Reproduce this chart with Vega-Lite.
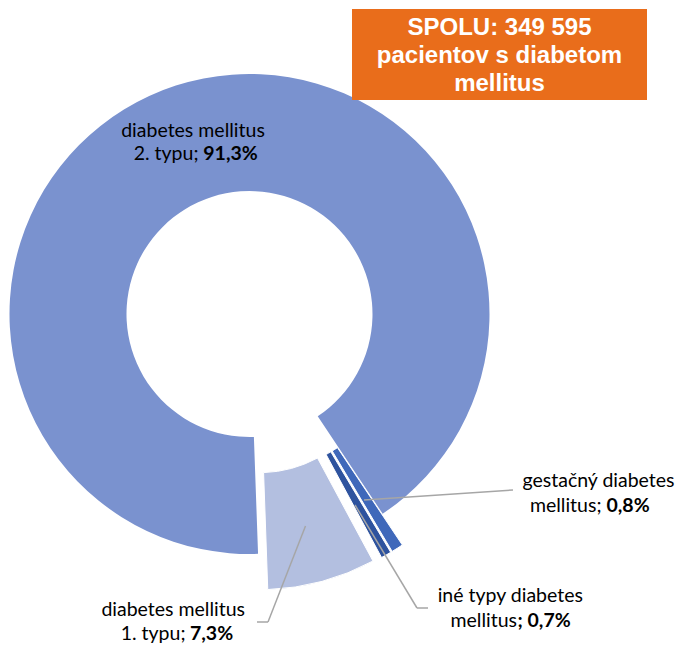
{
  "$schema": "https://vega.github.io/schema/vega-lite/v6.json",
  "width": 499,
  "height": 628,
  "padding": 0,
  "autosize": {"type": "pad"},
  "background": "white",
  "view": {"stroke": null},
  "config": {"text": {"font": "Lato", "fontSize": 19.5, "color": "#000000", "baseline": "alphabetic"}},
  "datasets": {
    "pacienti": [
      {"typ": "diabetes mellitus 1. typu", "podiel": 7.3, "riadok1": "diabetes mellitus", "riadok2": "1. typu;", "percento": "7,3%"},
      {"typ": "diabetes mellitus 2. typu", "podiel": 91.3, "riadok1": "diabetes mellitus", "riadok2": "2. typu;", "percento": "91,3%"},
      {"typ": "gestačný diabetes mellitus", "podiel": 0.8, "riadok1": "gestačný diabetes", "riadok2": "mellitus;", "percento": "0,8%"},
      {"typ": "iné typy diabetes mellitus", "podiel": 0.7, "riadok1": "iné typy diabetes", "riadok2": "mellitus", "percento": "; 0,7%"}
    ],
    "spolu": [{"popis": "SPOLU: 349 595\npacientov s diabetom\nmellitus"}]
  },
  "data": {"name": "pacienti"},
  "transform": [
    {"stack": "podiel", "groupby": [], "sort": [{"field": "typ", "order": "ascending"}], "as": ["v0", "v1"]}
  ],
  "layer": [
    {
      "transform": [{"filter": "datum.typ === 'diabetes mellitus 2. typu'"}],
      "mark": {"type": "arc", "innerRadius": 123, "outerRadius": 240, "fill": "#7A92CF"},
      "encoding": {
        "theta": {"field": "v0", "type": "quantitative", "stack": null, "scale": {"domain": [0, 100.1], "range": [2.6477, 8.9309]}},
        "theta2": {"field": "v1"}
      }
    },
    {
      "transform": [{"filter": "datum.typ === 'diabetes mellitus 1. typu'"}],
      "mark": {"type": "arc", "innerRadius": 123, "outerRadius": 240, "fill": "#B3BFE0", "stroke": "white", "strokeWidth": 1, "xOffset": 9.7, "yOffset": 35.7},
      "encoding": {
        "theta": {"field": "v0", "type": "quantitative", "stack": null, "scale": {"domain": [0, 100.1], "range": [2.6477, 8.9309]}},
        "theta2": {"field": "v1"}
      }
    },
    {
      "transform": [{"filter": "datum.typ === 'gestačný diabetes mellitus'"}],
      "mark": {"type": "arc", "innerRadius": 123, "outerRadius": 240, "fill": "#3F68BA", "stroke": "white", "strokeWidth": 1, "xOffset": 19.7, "yOffset": 31.3},
      "encoding": {
        "theta": {"field": "v0", "type": "quantitative", "stack": null, "scale": {"domain": [0, 100.1], "range": [2.6477, 8.9309]}},
        "theta2": {"field": "v1"}
      }
    },
    {
      "transform": [{"filter": "datum.typ === 'iné typy diabetes mellitus'"}],
      "mark": {"type": "arc", "innerRadius": 123, "outerRadius": 240, "fill": "#2E539E", "stroke": "white", "strokeWidth": 1, "xOffset": 18.3, "yOffset": 32.2},
      "encoding": {
        "theta": {"field": "v0", "type": "quantitative", "stack": null, "scale": {"domain": [0, 100.1], "range": [2.6477, 8.9309]}},
        "theta2": {"field": "v1"}
      }
    },
    {
      "transform": [{"filter": "datum.typ === 'gestačný diabetes mellitus'"}],
      "mark": {"type": "rule", "stroke": "#A6A6A6", "strokeWidth": 1.5},
      "encoding": {"x": {"value": 364}, "y": {"value": 500}, "x2": {"value": 513}, "y2": {"value": 490}}
    },
    {
      "transform": [{"filter": "datum.typ === 'iné typy diabetes mellitus'"}],
      "mark": {"type": "rule", "stroke": "#A6A6A6", "strokeWidth": 1.5},
      "encoding": {"x": {"value": 355}, "y": {"value": 505}, "x2": {"value": 417}, "y2": {"value": 608}}
    },
    {
      "transform": [{"filter": "datum.typ === 'iné typy diabetes mellitus'"}],
      "mark": {"type": "rule", "stroke": "#A6A6A6", "strokeWidth": 1.5},
      "encoding": {"x": {"value": 417}, "y": {"value": 608}, "x2": {"value": 428}, "y2": {"value": 608}}
    },
    {
      "transform": [{"filter": "datum.typ === 'diabetes mellitus 1. typu'"}],
      "mark": {"type": "rule", "stroke": "#A6A6A6", "strokeWidth": 1.5},
      "encoding": {"x": {"value": 305.5}, "y": {"value": 526}, "x2": {"value": 268}, "y2": {"value": 622}}
    },
    {
      "transform": [{"filter": "datum.typ === 'diabetes mellitus 1. typu'"}],
      "mark": {"type": "rule", "stroke": "#A6A6A6", "strokeWidth": 1.5},
      "encoding": {"x": {"value": 268}, "y": {"value": 622}, "x2": {"value": 257}, "y2": {"value": 622}}
    },
    {
      "transform": [{"filter": "datum.typ === 'diabetes mellitus 2. typu'"}],
      "mark": {"type": "text", "x": 193, "y": 136.7, "align": "center"},
      "encoding": {"text": {"field": "riadok1"}}
    },
    {
      "transform": [{"filter": "datum.typ === 'diabetes mellitus 2. typu'"}],
      "mark": {"type": "text", "x": 198.5, "y": 160, "align": "right"},
      "encoding": {"text": {"field": "riadok2"}}
    },
    {
      "transform": [{"filter": "datum.typ === 'diabetes mellitus 2. typu'"}],
      "mark": {"type": "text", "x": 203.3, "y": 160, "align": "left", "fontWeight": "bold"},
      "encoding": {"text": {"field": "percento"}}
    },
    {
      "transform": [{"filter": "datum.typ === 'gestačný diabetes mellitus'"}],
      "mark": {"type": "text", "x": 598.5, "y": 486.7, "align": "center"},
      "encoding": {"text": {"field": "riadok1"}}
    },
    {
      "transform": [{"filter": "datum.typ === 'gestačný diabetes mellitus'"}],
      "mark": {"type": "text", "x": 601.5, "y": 511.7, "align": "right"},
      "encoding": {"text": {"field": "riadok2"}}
    },
    {
      "transform": [{"filter": "datum.typ === 'gestačný diabetes mellitus'"}],
      "mark": {"type": "text", "x": 606.5, "y": 511.7, "align": "left", "fontWeight": "bold"},
      "encoding": {"text": {"field": "percento"}}
    },
    {
      "transform": [{"filter": "datum.typ === 'iné typy diabetes mellitus'"}],
      "mark": {"type": "text", "x": 510.3, "y": 601.7, "align": "center"},
      "encoding": {"text": {"field": "riadok1"}}
    },
    {
      "transform": [{"filter": "datum.typ === 'iné typy diabetes mellitus'"}],
      "mark": {"type": "text", "x": 517, "y": 626.7, "align": "right"},
      "encoding": {"text": {"field": "riadok2"}}
    },
    {
      "transform": [{"filter": "datum.typ === 'iné typy diabetes mellitus'"}],
      "mark": {"type": "text", "x": 517.5, "y": 626.7, "align": "left", "fontWeight": "bold"},
      "encoding": {"text": {"field": "percento"}}
    },
    {
      "transform": [{"filter": "datum.typ === 'diabetes mellitus 1. typu'"}],
      "mark": {"type": "text", "x": 173.2, "y": 615.5, "align": "center"},
      "encoding": {"text": {"field": "riadok1"}}
    },
    {
      "transform": [{"filter": "datum.typ === 'diabetes mellitus 1. typu'"}],
      "mark": {"type": "text", "x": 185.5, "y": 640, "align": "right"},
      "encoding": {"text": {"field": "riadok2"}}
    },
    {
      "transform": [{"filter": "datum.typ === 'diabetes mellitus 1. typu'"}],
      "mark": {"type": "text", "x": 190, "y": 640, "align": "left", "fontWeight": "bold"},
      "encoding": {"text": {"field": "percento"}}
    },
    {
      "data": {"name": "spolu"},
      "mark": {"type": "rect", "x": 352, "x2": 647, "y": 9, "y2": 100, "fill": "#E96D1B"},
      "encoding": {}
    },
    {
      "data": {"name": "spolu"},
      "mark": {"type": "text", "x": 499.5, "y": 35, "align": "center", "lineBreak": "\n", "lineHeight": 28, "font": "Liberation Sans", "fontSize": 24, "fontWeight": "bold", "color": "white", "fill": "white"},
      "encoding": {"text": {"field": "popis"}}
    }
  ]
}
